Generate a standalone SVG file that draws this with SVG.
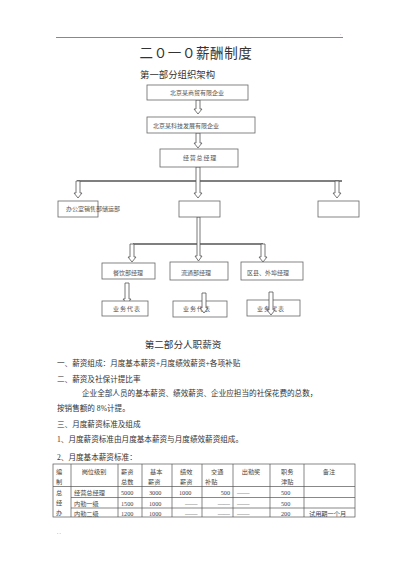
<svg xmlns="http://www.w3.org/2000/svg" width="400" height="566" viewBox="0 0 400 566">
<style>
text{font-family:"Liberation Serif","Noto Sans CJK SC",serif;fill:#333}
.box{fill:#fff;stroke:#666;stroke-width:0.8}
.bt{font-size:6px;fill:#555}
.arr{fill:#fff;stroke:#555;stroke-width:0.8}
.bar{stroke:#555;stroke-width:1.6;fill:none}
.body{font-size:7.6px}
.tb{font-size:6.2px;fill:#444}
.tl{stroke:#555;stroke-width:0.7;fill:none}
</style>
<rect width="400" height="566" fill="#fff"/>
<line x1="56" y1="37.5" x2="343" y2="37.5" stroke="#888" stroke-width="1.2"/>
<text x="340" y="35" font-size="4" fill="#999">.</text>
<text x="196" y="58" font-size="13.5" text-anchor="middle" letter-spacing="0.6">二０一０薪酬制度</text>
<text x="140" y="78" font-size="9.4">第一部分组织架构</text>

<g id="connectors">
<path class="arr" d="M196,100 L200,100 L200,109 L202,109 L198,114 L194,109 L196,109 Z"/>
<path class="arr" d="M196,133 L200,133 L200,143 L202,143 L198,148 L194,143 L196,143 Z"/>
<line class="bar" x1="77" y1="181" x2="342" y2="181"/>
<path class="arr" d="M196,167 L200,167 L200,193 L202,193 L198,198 L194,193 L196,193 Z"/>
<path class="arr" d="M76,181 L80,181 L80,193 L82,193 L78,198 L74,193 L76,193 Z"/>
<path class="arr" d="M335,181 L339,181 L339,193 L341,193 L337,198 L333,193 L335,193 Z"/>
<line class="bar" x1="133" y1="244" x2="263" y2="244" stroke-width="1.3"/>
<path class="arr" d="M197,217 L200,217 L200,256 L202,256 L198.5,261 L195,256 L197,256 Z"/>
<path class="arr" d="M130,244 L134,244 L134,257 L136,257 L132,262 L128,257 L130,257 Z"/>
<path class="arr" d="M261,244 L265,244 L265,257 L267,257 L263,262 L259,257 L261,257 Z"/>
<path class="arr" d="M125,283 L129,283 L129,299 L131,299 L127,304 L123,299 L125,299 Z"/>
</g>

<g id="n1"><rect class="box" x="147" y="85" width="101" height="15"/><text class="bt" x="197" y="95" text-anchor="middle">北京某商贸有限企业</text></g>
<g id="n2"><rect class="box" x="147" y="117" width="108" height="16"/><text class="bt" x="186" y="128" text-anchor="middle">北京某科技发展有限企业</text></g>
<g id="n3"><rect class="box" x="160" y="149" width="78" height="18"/><text class="bt" x="200" y="160" text-anchor="middle" letter-spacing="0.8">经营总经理</text></g>
<g id="n4"><rect class="box" x="58" y="201" width="40" height="16"/><text class="bt" x="66" y="211">办公室销售部储运部</text></g>
<g id="n5"><rect class="box" x="179" y="201" width="41" height="16"/></g>
<g id="n6"><rect class="box" x="318" y="201" width="41" height="16"/></g>
<g id="n7"><rect class="box" x="102" y="263" width="53" height="16"/><text class="bt" x="128" y="275" text-anchor="middle">餐饮部经理</text></g>
<g id="n8"><rect class="box" x="170" y="262" width="58" height="18"/><text class="bt" x="196" y="275" text-anchor="middle">流通部经理</text></g>
<g id="n9"><rect class="box" x="241" y="262" width="62" height="18"/><text class="bt" x="268" y="275" text-anchor="middle">区县、外埠经理</text></g>
<g id="n10"><rect class="box" x="102" y="301" width="46" height="15"/><text class="bt" x="127" y="311" text-anchor="middle" letter-spacing="1">业务代表</text></g>
<g id="n11"><rect class="box" x="173" y="301" width="54" height="16"/><text class="bt" x="197" y="311" text-anchor="middle" letter-spacing="1">业务代表</text></g>
<g id="n12"><rect class="box" x="247" y="300" width="53" height="16"/><text class="bt" x="271" y="311" text-anchor="middle" letter-spacing="1">业务代表</text></g>

<g id="connectors2">
<path class="arr" d="M202,293 L206,293 L206,308 L208,308 L204,313 L200,308 L202,308 Z"/>
<path class="arr" d="M269,292 L273,292 L273,310 L275,310 L271,315 L267,310 L269,310 Z"/>
</g>

<text x="183" y="348" font-size="9.6" text-anchor="middle">第二部分人职薪资</text>
<text class="body" x="57" y="366">一、薪资组成：月度基本薪资+月度绩效薪资+各项补贴</text>
<text class="body" x="57" y="382">二、薪资及社保计提比率</text>
<text class="body" x="82" y="396">企业全部人员的基本薪资、绩效薪资、企业应担当的社保花费的总数，</text>
<text class="body" x="57" y="411">按销售额的 8%计提。</text>
<text class="body" x="57" y="427">三、月度薪资标准及组成</text>
<text class="body" x="57" y="442">1、月度薪资标准由月度基本薪资与月度绩效薪资组成。</text>
<text class="body" x="57" y="460">2、月度基本薪资标准：</text>

<g id="table">
<rect class="tl" x="53" y="464" width="302" height="53"/>
<line class="tl" x1="53" y1="486.5" x2="355" y2="486.5"/>
<line class="tl" x1="71" y1="497.5" x2="355" y2="497.5"/>
<line class="tl" x1="71" y1="508" x2="355" y2="508"/>
<line class="tl" x1="71" y1="464" x2="71" y2="517"/>
<line class="tl" x1="118" y1="464" x2="118" y2="517"/>
<line class="tl" x1="142" y1="464" x2="142" y2="517"/>
<line class="tl" x1="172" y1="464" x2="172" y2="517"/>
<line class="tl" x1="202" y1="464" x2="202" y2="517"/>
<line class="tl" x1="233" y1="464" x2="233" y2="517"/>
<line class="tl" x1="270" y1="464" x2="270" y2="517"/>
<line class="tl" x1="304" y1="464" x2="304" y2="517"/>
<text class="tb" x="56" y="474">编</text><text class="tb" x="56" y="484">制</text>
<text class="tb" x="94" y="474" text-anchor="middle">岗位级别</text>
<text class="tb" x="121" y="474">薪资</text><text class="tb" x="121" y="484">总数</text>
<text class="tb" x="150" y="474">基本</text><text class="tb" x="148" y="484">薪资</text>
<text class="tb" x="180" y="474">绩效</text><text class="tb" x="180" y="484">薪资</text>
<text class="tb" x="211" y="474">交通</text><text class="tb" x="205" y="484">补贴</text>
<text class="tb" x="251" y="474" text-anchor="middle">出勤奖</text>
<text class="tb" x="281" y="474">职务</text><text class="tb" x="281" y="484">津贴</text>
<text class="tb" x="329" y="474" text-anchor="middle">备注</text>
<text class="tb" x="56" y="495">总</text>
<text class="tb" x="56" y="505">经</text>
<text class="tb" x="56" y="515">办</text>
<text class="tb" x="74" y="495">经营总经理</text>
<text class="tb" x="74" y="506">内勤一级</text>
<text class="tb" x="74" y="516">内勤二级</text>
<text class="tb" x="121" y="495">5000</text><text class="tb" x="121" y="506">1500</text><text class="tb" x="121" y="516">1200</text>
<text class="tb" x="149" y="495">3000</text><text class="tb" x="149" y="506">1000</text><text class="tb" x="149" y="516">1000</text>
<text class="tb" x="179" y="495">1000</text><text class="tb" x="185" y="506">——</text><text class="tb" x="185" y="516">——</text>
<text class="tb" x="230" y="495" text-anchor="end">500</text><text class="tb" x="230" y="506" text-anchor="end">——</text><text class="tb" x="230" y="516" text-anchor="end">——</text>
<text class="tb" x="237" y="495">——</text><text class="tb" x="237" y="506">——</text><text class="tb" x="237" y="516">——</text>
<text class="tb" x="281" y="495">500</text><text class="tb" x="281" y="506">500</text><text class="tb" x="281" y="516">200</text>
<text class="tb" x="309" y="516">试用期一个月</text>
</g>
<text x="57" y="534" font-size="5" fill="#999">. .</text>
</svg>
